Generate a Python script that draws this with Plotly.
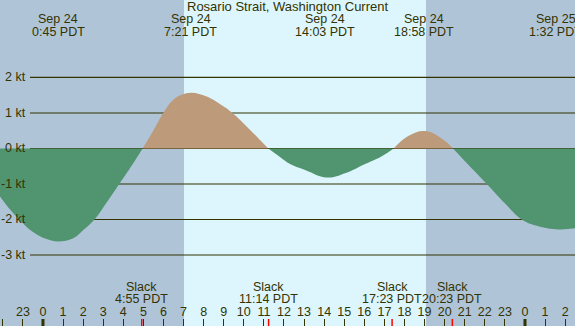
import plotly.graph_objects as go

# ---------------- data ----------------
title = "Rosario Strait, Washington Current"
# hours relative to Sep 24 00:00 PDT, current speed in knots
times = [-2.14, -1.64, -1.15, -0.48, 0.18, 0.76, 1.51, 2.01, 2.56, 3.17, 3.8, 4.42, 4.96,
         5.49, 5.99, 6.49, 6.9, 7.4, 8.15, 8.81, 9.43, 10.14, 10.72, 11.22,
         11.7, 12.05, 12.3, 13.05, 14.13, 15.04, 16.04, 16.87, 17.46,
         18.19, 19.02, 19.85, 20.42,
         21.18, 22.1, 23.01, 23.84, 24.67, 25.66, 26.49]
speeds = [-1.35, -1.72, -2.02, -2.36, -2.55, -2.62, -2.53, -2.3, -2.0, -1.52, -1.0, -0.48, 0.0,
          0.5, 1.0, 1.37, 1.51, 1.57, 1.46, 1.25, 1.0, 0.62, 0.29, 0.0,
          -0.2, -0.35, -0.44, -0.61, -0.82, -0.7, -0.44, -0.22, 0.0,
          0.35, 0.49, 0.28, 0.0,
          -0.46, -1.0, -1.55, -2.0, -2.19, -2.28, -2.25]

extreme_dates = ["Sep 24", "Sep 24", "Sep 24", "Sep 24", "Sep 25"]
extreme_times = ["0:45", "7:21", "14:03", "18:58", "1:32"]
slack_times = ["4:55", "11:14", "17:23", "20:23"]
sunrise = 7.02
sunset = 19.07
x_range = [-2.14, 26.49]
y_range = [-5.0, 4.18]
kt_levels = [2, 1, 0, -1, -2, -3]
hour_ticks = list(range(-2, 27))

# ---------------- styles ----------------
NIGHT = "#b0c4d8"
DAY = "#ddf6fe"
FLOOD = "#bc9a7a"
EBB = "#519470"
TXT = "#333300"
FONT = "Liberation Sans"
FS = 12.5
W, H = 575, 326


def to_hours(s, day_offset=0):
    h, m = s.split(":")
    return int(h) + int(m) / 60 + 24 * day_offset


fig = go.Figure()

# split the curve into lobes at zero crossings
lobes = []
cur_t, cur_v = [times[0]], [speeds[0]]
for t, v in zip(times[1:], speeds[1:]):
    cur_t.append(t)
    cur_v.append(v)
    if v == 0.0:
        lobes.append((cur_t, cur_v))
        cur_t, cur_v = [t], [v]
if len(cur_t) > 1:
    lobes.append((cur_t, cur_v))

for lt, lv in lobes:
    pos = sum(lv) > 0
    col = FLOOD if pos else EBB
    fig.add_trace(go.Scatter(
        x=lt, y=lv, mode="lines", line=dict(width=0, shape="spline", smoothing=1.2, color=col),
        fill="tozeroy", fillcolor=col, hoverinfo="skip", showlegend=False))

shapes = []
# day / night background
shapes.append(dict(type="rect", xref="x", yref="paper", x0=x_range[0], x1=sunrise, y0=0, y1=1,
                   fillcolor=NIGHT, line_width=0, layer="below"))
shapes.append(dict(type="rect", xref="x", yref="paper", x0=sunrise, x1=sunset, y0=0, y1=1,
                   fillcolor=DAY, line_width=0, layer="below"))
shapes.append(dict(type="rect", xref="x", yref="paper", x0=sunset, x1=x_range[1], y0=0, y1=1,
                   fillcolor=NIGHT, line_width=0, layer="below"))
# gridlines
for k in kt_levels:
    shapes.append(dict(type="line", xref="paper", yref="y", x0=30 / W, x1=1, y0=k, y1=k,
                       line=dict(color=TXT, width=1.1), layer="below"))
# midnight ticks
for m in [0, 24]:
    shapes.append(dict(type="line", xref="x", yref="paper", x0=m, x1=m, y0=0, y1=7 / H,
                       line=dict(color=TXT, width=3)))
# slack ticks
for s in slack_times:
    h = to_hours(s)
    shapes.append(dict(type="line", xref="x", yref="paper", x0=h, x1=h, y0=0, y1=7 / H,
                       line=dict(color="red", width=1.5)))


def font(size=FS):
    return dict(size=size, color=TXT, family=FONT)


ann = []
ann.append(dict(text=title, x=0.5, xref="paper", y=1 - 7 / H, yref="paper", showarrow=False,
                font=font(13), yanchor="middle", xanchor="center"))
for k in kt_levels:
    ann.append(dict(text=f"{k} kt", x=28 / W, xref="paper", y=k, yref="y", showarrow=False,
                    xanchor="right", yanchor="middle", font=font()))
for d, t in zip(extreme_dates, extreme_times):
    off = 1 if d == "Sep 25" else 0
    h = to_hours(t, off)
    ann.append(dict(text=d, x=h, xref="x", y=1 - 19 / H, yref="paper", showarrow=False,
                    xanchor="center", yanchor="middle", font=font()))
    ann.append(dict(text=f"{t} PDT", x=h, xref="x", y=1 - 32 / H, yref="paper", showarrow=False,
                    xanchor="center", yanchor="middle", font=font()))
for s in slack_times:
    h = to_hours(s)
    ann.append(dict(text="Slack", x=h, xref="x", y=1 - 287 / H, yref="paper", showarrow=False,
                    xanchor="center", yanchor="middle", font=font()))
    ann.append(dict(text=f"{s} PDT", x=h, xref="x", y=1 - 299 / H, yref="paper", showarrow=False,
                    xanchor="center", yanchor="middle", font=font()))

fig.update_layout(
    width=W, height=H, margin=dict(l=0, r=0, t=0, b=0),
    paper_bgcolor=NIGHT, plot_bgcolor=NIGHT,
    shapes=shapes, annotations=ann, showlegend=False,
    xaxis=dict(range=x_range, tickvals=hour_ticks, ticktext=[str(h % 24) for h in hour_ticks],
               ticks="inside", ticklen=7, tickwidth=1, tickcolor=TXT, ticklabelposition="inside",
               tickfont=font(), showgrid=False, zeroline=False,
               showline=False, fixedrange=True),
    yaxis=dict(range=y_range, visible=False, fixedrange=True),
)

fig.write_html("out.html", config={"displayModeBar": False},
               post_script="document.body.style.margin='0';document.body.style.overflow='hidden';")
